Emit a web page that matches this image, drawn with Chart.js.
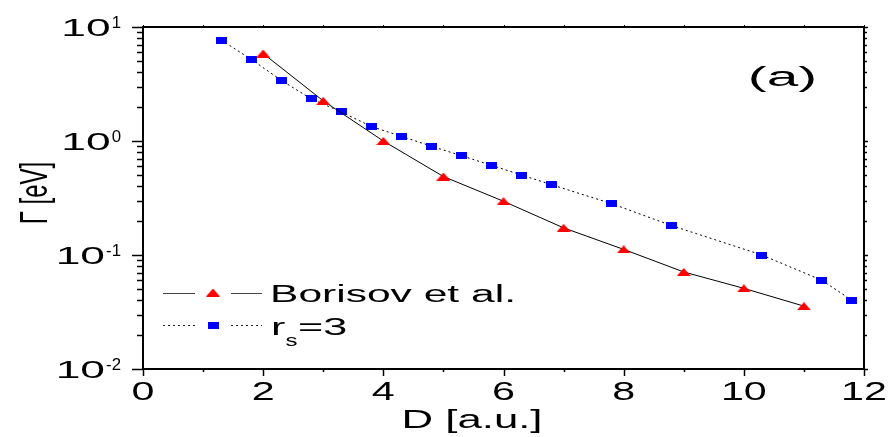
<!DOCTYPE html>
<html>
<head>
<meta charset="utf-8">
<script src="https://cdn.jsdelivr.net/npm/chart.js@4/dist/chart.umd.min.js"></script>
<style>
  html, body { margin: 0; padding: 0; background: #fff; }
  canvas { display: block; }
</style>
</head>
<body>
<canvas id="c" width="892" height="437"></canvas>
<script>
// ---- data ----
const borisovX = [2, 3, 4, 5, 6, 7, 8, 9, 10, 11];
const borisovValues = [5.85, 2.25, 1.0, 0.488, 0.296, 0.173, 0.112, 0.071, 0.051, 0.0356];
const rsX = [1.3, 1.8, 2.3, 2.8, 3.3, 3.8, 4.3, 4.8, 5.3, 5.8, 6.3, 6.8, 7.8, 8.8, 10.3, 11.3, 11.8];
const rsValues = [7.69, 5.21, 3.41, 2.34, 1.80, 1.34, 1.10, 0.90, 0.743, 0.612, 0.503, 0.414, 0.282, 0.181, 0.100, 0.060, 0.040];
const xTicks = [0, 2, 4, 6, 8, 10, 12];
const yTicks = [0.01, 0.1, 1, 10];
const seriesLabels = ['Borisov et al.', 'r', 's', '=3'];
const xTitle = 'D [a.u.]';
const yTitle = 'Γ [eV]';
const panelLabel = '(a)';

const FONT = '"Liberation Sans", Arial, sans-serif';

// marker images
function makeTri() {
  const c = document.createElement('canvas');
  c.width = 14; c.height = 8;
  const g = c.getContext('2d');
  g.fillStyle = '#ff0000';
  g.beginPath(); g.moveTo(7, 0); g.lineTo(14, 8); g.lineTo(0, 8); g.closePath(); g.fill();
  return c;
}
function makeRect() {
  const c = document.createElement('canvas');
  c.width = 11; c.height = 7;
  const g = c.getContext('2d');
  g.fillStyle = '#0000ff';
  g.fillRect(0, 0, 11, 7);
  return c;
}
const triImg = makeTri();
const rectImg = makeRect();

function sText(ctx, str, x, y, size, sx, align) {
  ctx.save();
  ctx.font = size + 'px ' + FONT;
  ctx.translate(x, y);
  ctx.scale(sx, 1);
  ctx.textAlign = align || 'left';
  ctx.textBaseline = 'alphabetic';
  ctx.fillText(str, 0, 0);
  ctx.restore();
}
function textW(ctx, str, size, sx) {
  ctx.save();
  ctx.font = size + 'px ' + FONT;
  const w = ctx.measureText(str).width * sx;
  ctx.restore();
  return w;
}

const framePlugin = {
  id: 'frame',
  afterDraw(chart) {
    const ctx = chart.ctx;
    const a = chart.chartArea;
    const xs = chart.scales.x, ys = chart.scales.y;
    ctx.save();
    ctx.fillStyle = '#000';
    ctx.strokeStyle = '#000';

    // frame
    ctx.lineWidth = 2;
    ctx.strokeRect(a.left, a.top, a.right - a.left, a.bottom - a.top);

    // x ticks
    ctx.lineWidth = 1.5;
    for (let d = xs.min; d <= xs.max; d++) {
      const px = Math.round(xs.getPixelForValue(d)) + 0.5;
      const major = xTicks.includes(d);
      ctx.beginPath();
      ctx.moveTo(px, a.bottom); ctx.lineTo(px, a.bottom + (major ? 7 : 3));
      ctx.stroke();
      ctx.lineWidth = 1;
      ctx.beginPath();
      ctx.moveTo(px, a.top); ctx.lineTo(px, a.top - 2);
      ctx.stroke();
      ctx.lineWidth = 1.5;
    }
    // y ticks
    for (let e = -2; e <= 1; e++) {
      for (let m = 1; m <= 9; m++) {
        const v = m * Math.pow(10, e);
        if (v > ys.max * 1.0001) break;
        const py = Math.round(ys.getPixelForValue(v)) + 0.5;
        const major = m === 1;
        ctx.lineWidth = 1.5;
        ctx.beginPath();
        ctx.moveTo(a.left, py); ctx.lineTo(a.left - (major ? 11 : 6), py);
        ctx.stroke();
        ctx.beginPath();
        ctx.moveTo(a.right, py); ctx.lineTo(a.right + (major ? 4 : 3), py);
        ctx.stroke();
      }
    }

    // x tick labels
    xTicks.forEach(d => {
      sText(ctx, String(d), xs.getPixelForValue(d), 400, 25, 1.65, 'center');
    });
    // y tick labels 10^n
    yTicks.forEach(v => {
      const ex = Math.round(Math.log10(v));
      const py = ys.getPixelForValue(v);
      const sup = String(ex);
      const right = 121;
      const sw = textW(ctx, sup, 16, 1.05);
      sText(ctx, sup, right, py + 0.5, 16, 1.05, 'right');
      sText(ctx, '10', right - sw - 1, py + 9, 24, 1.85, 'right');
    });

    // axis titles
    sText(ctx, xTitle, 472, 428, 25, 1.75, 'center');
    ctx.save();
    ctx.font = '24px ' + FONT;
    ctx.translate(47, (a.top + a.bottom) / 2 - 5);
    ctx.rotate(-Math.PI / 2);
    ctx.scale(1, 1.6);
    ctx.textAlign = 'center';
    ctx.fillText(yTitle, 0, 0);
    ctx.restore();

    // panel label
    sText(ctx, panelLabel, 782.5, 86.4, 27, 2.1, 'center');

    // legend
    ctx.strokeStyle = '#444';
    ctx.lineWidth = 1;
    const ly1 = 293.5, ly2 = 325.5;
    ctx.beginPath();
    ctx.moveTo(163, ly1); ctx.lineTo(195, ly1);
    ctx.moveTo(231, ly1); ctx.lineTo(262, ly1);
    ctx.stroke();
    ctx.drawImage(triImg, 213 - 7, ly1 - 5);
    ctx.strokeStyle = '#222';
    ctx.setLineDash([2, 3]);
    ctx.beginPath();
    ctx.moveTo(163, ly2); ctx.lineTo(195, ly2);
    ctx.moveTo(231, ly2); ctx.lineTo(262, ly2);
    ctx.stroke();
    ctx.setLineDash([]);
    ctx.drawImage(rectImg, 213 - 5.5, ly2 - 3.5);

    sText(ctx, seriesLabels[0], 270, 301.7, 23, 1.85, 'left');
    sText(ctx, seriesLabels[1], 271, 335, 24, 1.8, 'left');
    sText(ctx, seriesLabels[2], 285.5, 346, 16, 1.5, 'left');
    sText(ctx, seriesLabels[3], 298, 335, 24, 1.8, 'left');

    ctx.restore();
  }
};

new Chart(document.getElementById('c'), {
  type: 'line',
  data: {
    datasets: [
      {
        label: seriesLabels[0],
        data: borisovX.map((x, i) => ({ x: x, y: borisovValues[i] })),
        borderColor: '#000',
        borderWidth: 1,
        pointStyle: triImg,
        pointRadius: 7,
        tension: 0,
        fill: false
      },
      {
        label: 'r_s=3',
        data: rsX.map((x, i) => ({ x: x, y: rsValues[i] })),
        borderColor: '#000',
        borderWidth: 1,
        borderDash: [2, 3],
        pointStyle: rectImg,
        pointRadius: 6,
        tension: 0,
        fill: false
      }
    ]
  },
  options: {
    responsive: false,
    animation: false,
    devicePixelRatio: 1,
    layout: { padding: { left: 143, top: 27, right: 28, bottom: 68 } },
    plugins: { legend: { display: false }, tooltip: { enabled: false } },
    scales: {
      x: { type: 'linear', min: 0, max: 12, display: false },
      y: { type: 'logarithmic', min: 0.01, max: 10, display: false }
    }
  },
  plugins: [framePlugin]
});
</script>
</body>
</html>
